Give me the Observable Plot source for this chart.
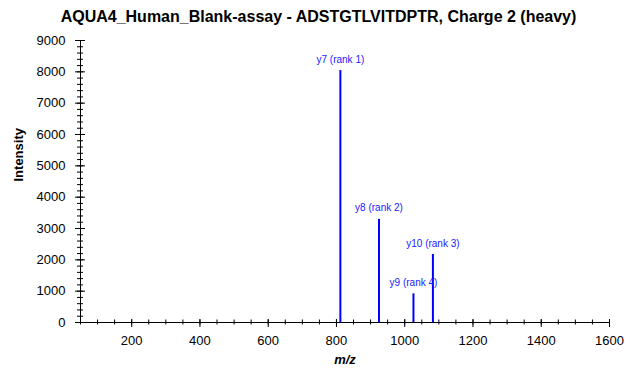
<!DOCTYPE html>
<html>
<head>
<meta charset="utf-8">
<script src="https://cdn.jsdelivr.net/npm/d3@7"></script>
<script src="https://cdn.jsdelivr.net/npm/@observablehq/plot@0.6"></script>
<style>
  body { margin: 0; background: white; }
  #wrap { position: relative; width: 637px; height: 383px; font-family: "Liberation Sans", Arial, sans-serif; }
  #title { position: absolute; top: 8px; left: 0; width: 637px; text-align: center; font-weight: bold; font-size: 16px; line-height: 18px; color: black; }
</style>
</head>
<body>
<div id="wrap"><div id="title"></div></div>
<script>
const titleText = "AQUA4_Human_Blank-assay - ADSTGTLVITDPTR, Charge 2 (heavy)";
const ions = ["y7", "y8", "y9", "y10"];
const ranks = [1, 2, 4, 3];
const mzValues = [811.45, 924.53, 1025.58, 1082.60];
const intensities = [8040, 3290, 915, 2170];
const xMajorTicks = [200, 400, 600, 800, 1000, 1200, 1400, 1600];
const xMinorTicks = d3.range(50, 1601, 50);
const yMajorTicks = [0, 1000, 2000, 3000, 4000, 5000, 6000, 7000, 8000, 9000];
const yMinorTicks = d3.range(0, 9001, 200);

const peaks = ions.map((ion, i) => ({ion, rank: ranks[i], mz: mzValues[i], intensity: intensities[i]}));

document.getElementById("title").textContent = titleText;

const chart = Plot.plot({
  width: 637,
  height: 383,
  marginLeft: 80,
  marginRight: 28,
  marginTop: 40,
  marginBottom: 61,
  style: {fontFamily: "'Liberation Sans', Arial, sans-serif", fontSize: "13px", color: "black", background: "transparent"},
  x: {domain: [50, 1600]},
  y: {domain: [0, 9000]},
  marks: [
    Plot.ruleX([50], {stroke: "black"}),
    Plot.ruleY([0], {stroke: "black", insetLeft: -5}),
    Plot.axisY({ticks: yMinorTicks, tickSize: 6, dx: 3, fill: "none", label: null}),
    Plot.axisY({ticks: yMajorTicks, tickSize: 10, dx: 5, fill: "none", label: null}),
    Plot.axisY({ticks: yMajorTicks, tickFormat: d3.format("d"), tickSize: 0, tickPadding: 15, stroke: "none", label: null, fontSize: 13}),
    Plot.axisX({ticks: xMinorTicks, tickSize: 5, dy: -2.5, fill: "none", label: null}),
    Plot.axisX({ticks: xMajorTicks, tickSize: 8, dy: -3, fill: "none", label: null}),
    Plot.axisX({ticks: xMajorTicks, tickFormat: d3.format("d"), tickSize: 0, tickPadding: 13, stroke: "none", label: null, fontSize: 13}),
    Plot.ruleX(peaks, {x: "mz", y: "intensity", stroke: "blue", strokeWidth: 2}),
    Plot.text(peaks, {x: "mz", y: "intensity", text: d => `${d.ion} (rank ${d.rank})`, dy: -8, lineAnchor: "bottom", fill: "#1a1aff", fontSize: 10}),
    Plot.text(["Intensity"], {text: d => d, frameAnchor: "left", dx: -62, rotate: -90, fontWeight: "bold", fontSize: 13, fill: "black"}),
    Plot.text(["m/z"], {text: d => d, frameAnchor: "bottom", dy: 41, fontWeight: "bold", fontStyle: "italic", fontSize: 13, fill: "black"})
  ]
});
document.getElementById("wrap").appendChild(chart);
</script>
</body>
</html>
